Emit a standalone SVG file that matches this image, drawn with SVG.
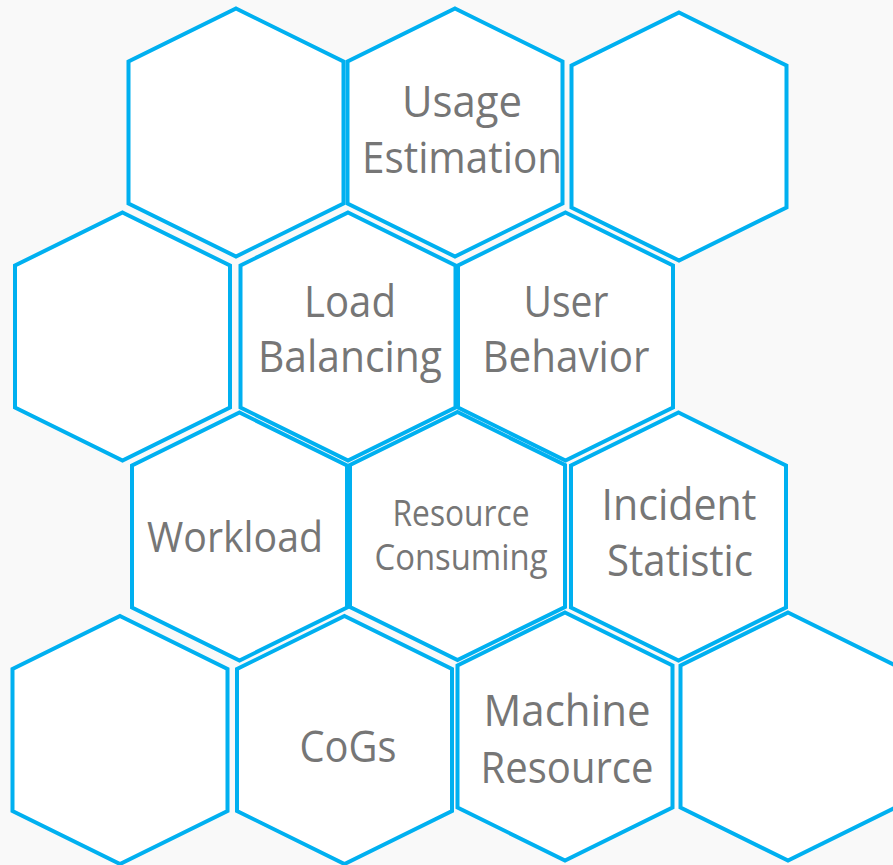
<svg xmlns="http://www.w3.org/2000/svg" width="893" height="865" viewBox="0 0 893 865">
<style>
.hex{fill:#FFFFFF;stroke:#00B0F0;stroke-width:4;stroke-linejoin:miter}
.t{font-family:"Open Sans","Noto Sans","Liberation Sans",sans-serif;fill:#767676;text-anchor:middle;font-size:44px}
.m{font-size:42px}
.s{font-size:36px}
</style>
<defs>
<polygon id="hexshape" class="hex" points="0,-124 107.5,-71 107.5,71 0,124 -107.5,71 -107.5,-71"/>
</defs>
<rect width="893" height="865" fill="#F9F9F9"/>
<g id="connectors"/>
<g id="hex-a"><use href="#hexshape" x="236" y="132.5"/></g>
<g id="hex-b"><use href="#hexshape" x="455" y="132.5"/>
<text class="t" x="462" y="117" textLength="120" lengthAdjust="spacingAndGlyphs">Usage</text>
<text class="t" x="462" y="173" textLength="200" lengthAdjust="spacingAndGlyphs">Estimation</text></g>
<g id="hex-c"><use href="#hexshape" x="679" y="136.5"/></g>
<g id="hex-d"><use href="#hexshape" x="122.5" y="336.5"/></g>
<g id="hex-e"><use href="#hexshape" x="348" y="336.5"/>
<text class="t" x="350" y="317" textLength="92" lengthAdjust="spacingAndGlyphs">Load</text>
<text class="t" x="350" y="372" textLength="184" lengthAdjust="spacingAndGlyphs">Balancing</text></g>
<g id="hex-f"><use href="#hexshape" x="565.5" y="336.5"/>
<text class="t" x="566" y="317" textLength="85" lengthAdjust="spacingAndGlyphs">User</text>
<text class="t" x="566" y="372" textLength="167" lengthAdjust="spacingAndGlyphs">Behavior</text></g>
<g id="hex-g"><use href="#hexshape" x="239.5" y="536.5"/>
<text class="t m" x="235" y="552" textLength="176" lengthAdjust="spacingAndGlyphs">Workload</text></g>
<g id="hex-h"><use href="#hexshape" x="457.5" y="536"/>
<text class="t s" x="461" y="526" textLength="137" lengthAdjust="spacingAndGlyphs">Resource</text>
<text class="t s" x="461" y="570" textLength="173" lengthAdjust="spacingAndGlyphs">Consuming</text></g>
<g id="hex-i"><use href="#hexshape" x="678.5" y="536.5"/>
<text class="t" x="679" y="520" textLength="155" lengthAdjust="spacingAndGlyphs">Incident</text>
<text class="t" x="680" y="576" textLength="146" lengthAdjust="spacingAndGlyphs">Statistic</text></g>
<g id="hex-j"><use href="#hexshape" x="120" y="740"/></g>
<g id="hex-k"><use href="#hexshape" x="344.5" y="740"/>
<text class="t" x="348" y="762" textLength="97" lengthAdjust="spacingAndGlyphs">CoGs</text></g>
<g id="hex-l"><use href="#hexshape" x="565" y="736.5"/>
<text class="t" x="567" y="726" textLength="167" lengthAdjust="spacingAndGlyphs">Machine</text>
<text class="t" x="567" y="783" textLength="173" lengthAdjust="spacingAndGlyphs">Resource</text></g>
<g id="hex-m"><use href="#hexshape" x="788" y="736.5"/></g>
</svg>
